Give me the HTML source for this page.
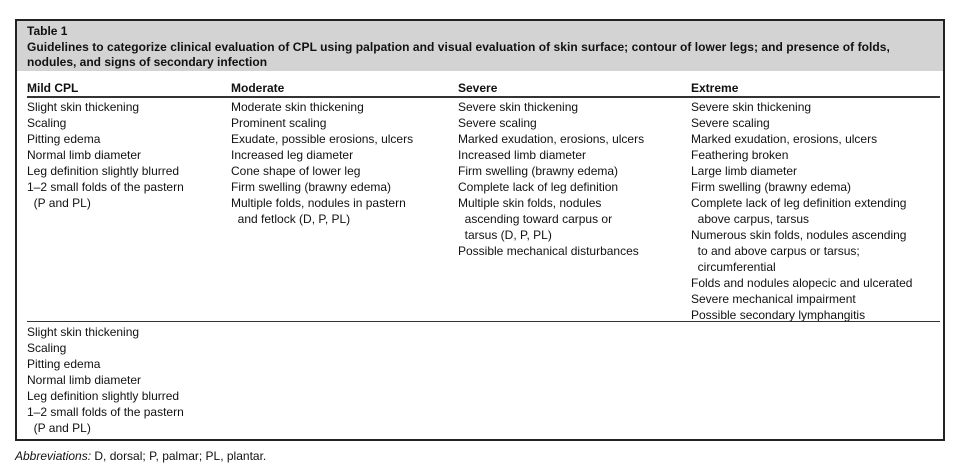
<!DOCTYPE html>
<html><head><meta charset="utf-8"><style>
body{margin:0;width:956px;height:473px;background:#fff;position:relative;font-family:"Liberation Sans",sans-serif;color:#111;overflow:hidden}
.box{position:absolute;left:15px;top:19px;width:926px;height:418px;border:2px solid #222;}
.hd{position:absolute;left:17px;top:21px;width:926px;height:50px;background:#d3d3d3}
.t{position:absolute;font-size:12px;white-space:nowrap;line-height:16px}
.b{font-weight:bold}
.ln{position:absolute;height:1px;background:#333}
</style></head><body>
<div class="box"></div>
<div class="hd"></div>
<div class="t b" style="left:27px;top:23px">Table 1</div>
<div class="t b" style="left:27px;top:39px;letter-spacing:0.05px">Guidelines to categorize clinical evaluation of CPL using palpation and visual evaluation of skin surface; contour of lower legs; and presence of folds,</div>
<div class="t b" style="left:27px;top:54px">nodules, and signs of secondary infection</div>

<div class="t b" style="left:27px;top:80px">Mild CPL</div>
<div class="t b" style="left:231px;top:80px">Moderate</div>
<div class="t b" style="left:458px;top:80px">Severe</div>
<div class="t b" style="left:691px;top:80px">Extreme</div>
<div class="ln" style="left:27px;top:96px;width:913px;height:2px"></div>

<div class="t" style="left:27px;top:99px">Slight skin thickening<br>Scaling<br>Pitting edema<br>Normal limb diameter<br>Leg definition slightly blurred<br>1–2 small folds of the pastern<br>&nbsp;&nbsp;(P and PL)</div>
<div class="t" style="left:231px;top:99px">Moderate skin thickening<br>Prominent scaling<br>Exudate, possible erosions, ulcers<br>Increased leg diameter<br>Cone shape of lower leg<br>Firm swelling (brawny edema)<br>Multiple folds, nodules in pastern<br>&nbsp;&nbsp;and fetlock (D, P, PL)</div>
<div class="t" style="left:458px;top:99px">Severe skin thickening<br>Severe scaling<br>Marked exudation, erosions, ulcers<br>Increased limb diameter<br>Firm swelling (brawny edema)<br>Complete lack of leg definition<br>Multiple skin folds, nodules<br>&nbsp;&nbsp;ascending toward carpus or<br>&nbsp;&nbsp;tarsus (D, P, PL)<br>Possible mechanical disturbances</div>
<div class="t" style="left:691px;top:99px">Severe skin thickening<br>Severe scaling<br>Marked exudation, erosions, ulcers<br>Feathering broken<br>Large limb diameter<br>Firm swelling (brawny edema)<br>Complete lack of leg definition extending<br>&nbsp;&nbsp;above carpus, tarsus<br>Numerous skin folds, nodules ascending<br>&nbsp;&nbsp;to and above carpus or tarsus;<br>&nbsp;&nbsp;circumferential<br>Folds and nodules alopecic and ulcerated<br>Severe mechanical impairment<br>Possible secondary lymphangitis</div>
<div class="ln" style="left:27px;top:321px;width:913px;height:1px"></div>

<div class="t" style="left:27px;top:324px">Slight skin thickening<br>Scaling<br>Pitting edema<br>Normal limb diameter<br>Leg definition slightly blurred<br>1–2 small folds of the pastern<br>&nbsp;&nbsp;(P and PL)</div>

<div class="t" style="left:15px;top:448px"><i>Abbreviations:</i> D, dorsal; P, palmar; PL, plantar.</div>
</body></html>
